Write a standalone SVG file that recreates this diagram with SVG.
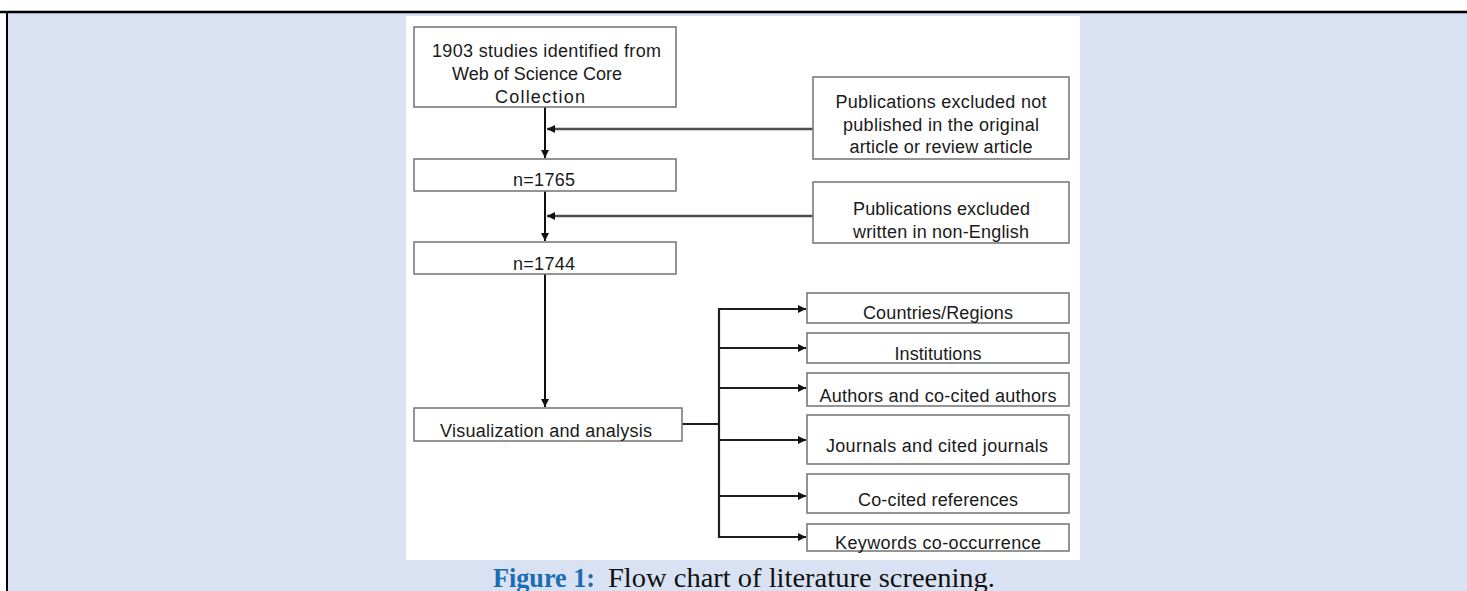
<svg xmlns="http://www.w3.org/2000/svg" width="1467" height="591" viewBox="0 0 1467 591">
<style>
.bx{fill:#ffffff;stroke:#7a7a7a;stroke-width:1.6}
.t{font-family:"Liberation Sans",Arial,sans-serif;font-size:18px;fill:#1a1a1a;text-anchor:middle}
.v{stroke:#111;stroke-width:2;fill:none}
.h{stroke:#4d4d4d;stroke-width:2.6;fill:none}
.b{stroke:#1e1e1e;stroke-width:2.2;fill:none}
.cap{font-family:"Liberation Serif","Times New Roman",serif;font-size:28px}
</style>
<defs>
<marker id="ah" viewBox="0 0 10 10" refX="10" refY="5" markerWidth="9" markerHeight="8" markerUnits="userSpaceOnUse" orient="auto">
<path d="M0,0 L10,5 L0,10 Z" fill="#111"/>
</marker>
</defs>
<rect x="0" y="0" width="1467" height="591" fill="#ffffff"/>
<rect x="7" y="13" width="1460" height="578" fill="#d8e2f2"/>
<line x1="0" y1="12" x2="1467" y2="12" stroke="#000" stroke-width="2.5"/>
<line x1="7" y1="11" x2="7" y2="591" stroke="#000" stroke-width="2"/>
<rect x="406" y="16" width="674" height="544" fill="#ffffff"/>

<g id="connectors">
<line class="v" x1="545" y1="107" x2="545" y2="158" marker-end="url(#ah)"/>
<line class="h" x1="813" y1="129" x2="547" y2="129" marker-end="url(#ah)"/>
<line class="v" x1="545" y1="191" x2="545" y2="241" marker-end="url(#ah)"/>
<line class="h" x1="813" y1="216" x2="547" y2="216" marker-end="url(#ah)"/>
<line class="v" x1="545" y1="274" x2="545" y2="407" marker-end="url(#ah)"/>
<line class="b" x1="682" y1="424" x2="719" y2="424"/>
<line class="b" x1="719" y1="308" x2="719" y2="538"/>
<line class="b" x1="718" y1="309" x2="806" y2="309" marker-end="url(#ah)"/>
<line class="b" x1="718" y1="348" x2="806" y2="348" marker-end="url(#ah)"/>
<line class="b" x1="718" y1="388" x2="806" y2="388" marker-end="url(#ah)"/>
<line class="b" x1="718" y1="440" x2="806" y2="440" marker-end="url(#ah)"/>
<line class="b" x1="718" y1="496" x2="806" y2="496" marker-end="url(#ah)"/>
<line class="b" x1="718" y1="537" x2="806" y2="537" marker-end="url(#ah)"/>
</g>

<g id="n-identified">
<rect class="bx" x="414" y="27" width="262" height="80"/>
<text class="t" x="546.5" y="57" textLength="229" lengthAdjust="spacing">1903 studies identified from</text>
<text class="t" x="537" y="80" textLength="170" lengthAdjust="spacing">Web of Science Core</text>
<text class="t" x="540" y="103" textLength="90" lengthAdjust="spacing">Collection</text>
</g>

<g id="n-excluded-type">
<rect class="bx" x="813" y="77" width="256" height="82"/>
<text class="t" x="941" y="108" textLength="211" lengthAdjust="spacing">Publications excluded not</text>
<text class="t" x="941" y="131" textLength="196" lengthAdjust="spacing">published in the original</text>
<text class="t" x="941" y="153" textLength="183" lengthAdjust="spacing">article or review article</text>
</g>

<g id="n-1765">
<rect class="bx" x="414" y="159" width="262" height="32"/>
<text class="t" x="544" y="186" textLength="62" lengthAdjust="spacing">n=1765</text>
</g>

<g id="n-excluded-lang">
<rect class="bx" x="813" y="182" width="256" height="61"/>
<text class="t" x="941.5" y="215" textLength="177" lengthAdjust="spacing">Publications excluded</text>
<text class="t" x="941" y="238" textLength="176" lengthAdjust="spacing">written in non-English</text>
</g>

<g id="n-1744">
<rect class="bx" x="414" y="242" width="262" height="32"/>
<text class="t" x="544" y="270" textLength="62" lengthAdjust="spacing">n=1744</text>
</g>

<g id="n-visualization">
<rect class="bx" x="414" y="408" width="268" height="33"/>
<text class="t" x="546" y="437" textLength="212" lengthAdjust="spacing">Visualization and analysis</text>
</g>

<g id="n-countries">
<rect class="bx" x="807" y="293" width="262" height="30"/>
<text class="t" x="938" y="319" textLength="150" lengthAdjust="spacing">Countries/Regions</text>
</g>

<g id="n-institutions">
<rect class="bx" x="807" y="333" width="262" height="30"/>
<text class="t" x="938" y="360" textLength="87" lengthAdjust="spacing">Institutions</text>
</g>

<g id="n-authors">
<rect class="bx" x="807" y="373" width="262" height="33"/>
<text class="t" x="938" y="402" textLength="237" lengthAdjust="spacing">Authors and co-cited authors</text>
</g>

<g id="n-journals">
<rect class="bx" x="807" y="415" width="262" height="49"/>
<text class="t" x="937" y="452" textLength="222" lengthAdjust="spacing">Journals and cited journals</text>
</g>

<g id="n-cocited">
<rect class="bx" x="807" y="474" width="262" height="39"/>
<text class="t" x="938" y="506" textLength="160" lengthAdjust="spacing">Co-cited references</text>
</g>

<g id="n-keywords">
<rect class="bx" x="807" y="524" width="262" height="27"/>
<text class="t" x="938" y="549" textLength="206" lengthAdjust="spacing">Keywords co-occurrence</text>
</g>

<g id="caption">
<text class="cap" x="493" y="587" font-weight="bold" fill="#1b6cb2" textLength="102" lengthAdjust="spacingAndGlyphs">Figure 1:</text>
<text class="cap" x="608" y="587" fill="#111" textLength="387" lengthAdjust="spacingAndGlyphs">Flow chart of literature screening.</text>
</g>
</svg>
